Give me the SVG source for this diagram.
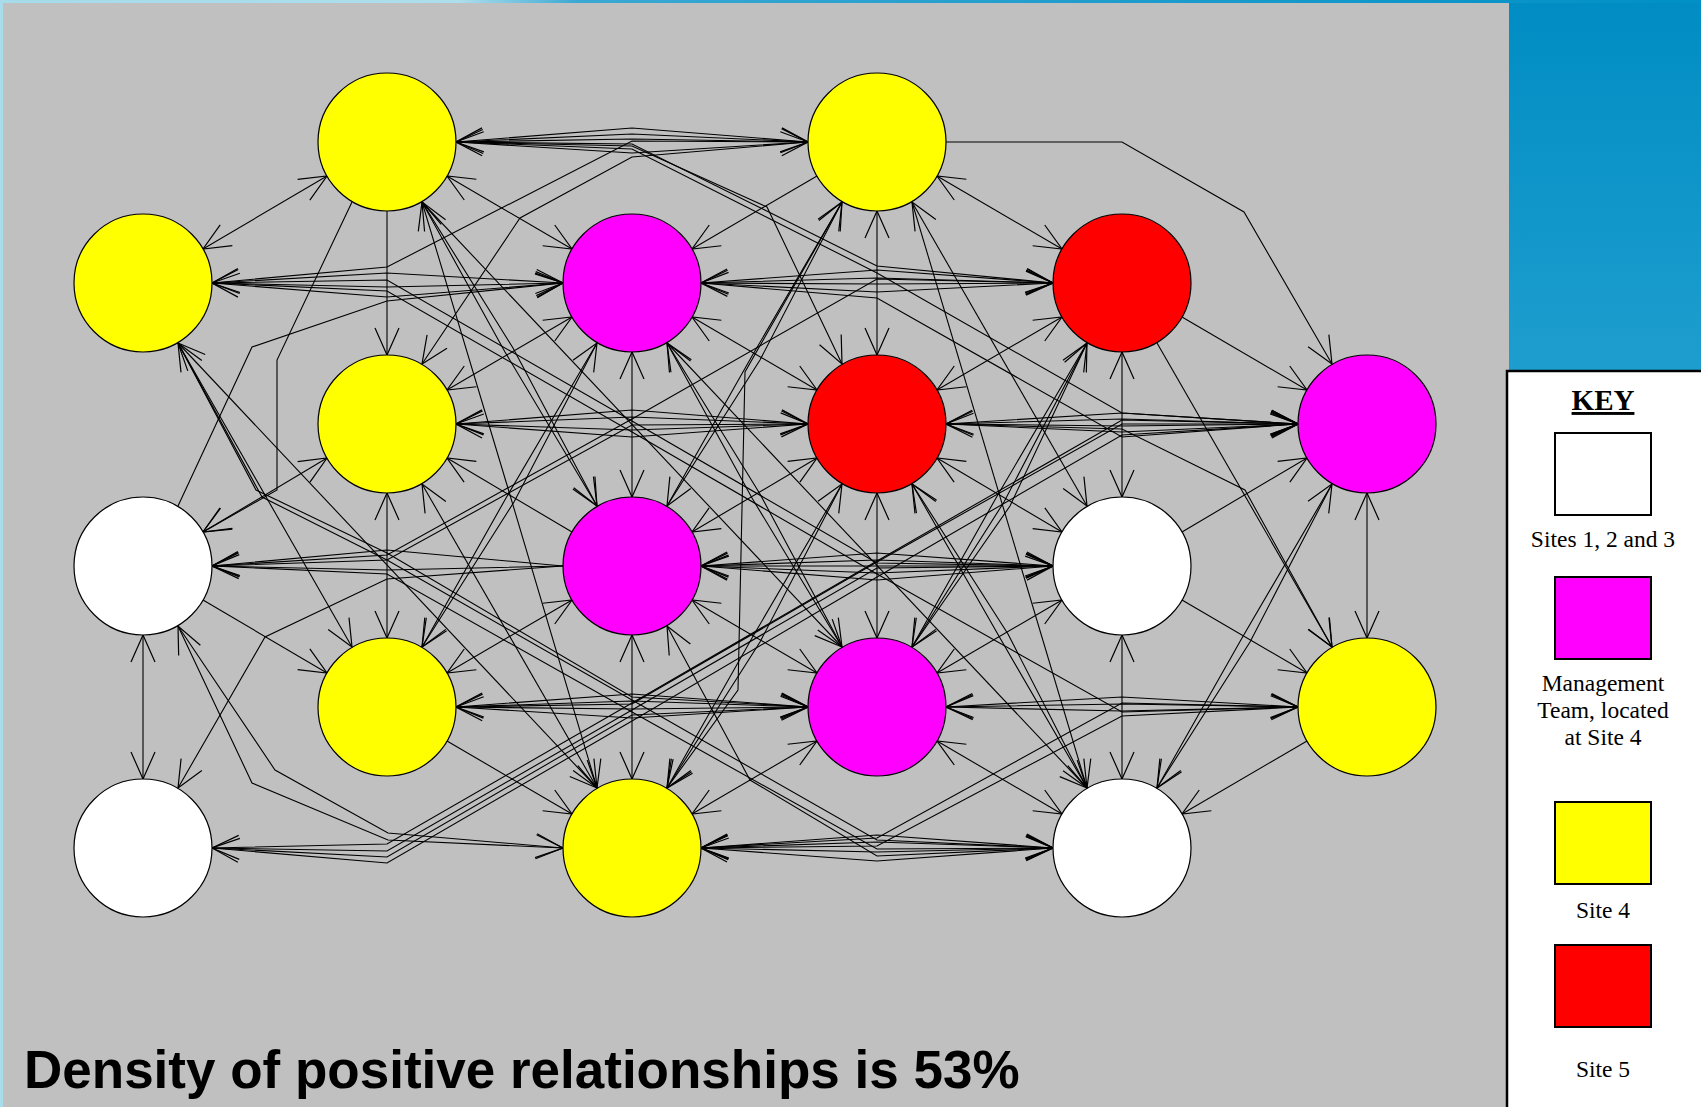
<svg xmlns="http://www.w3.org/2000/svg" width="1701" height="1107" viewBox="0 0 1701 1107">
  <defs>
    <linearGradient id="topStrip" x1="0" y1="0" x2="1701" y2="0" gradientUnits="userSpaceOnUse">
      <stop offset="0" stop-color="#a6dbea"/>
      <stop offset="0.27" stop-color="#addeec"/>
      <stop offset="0.34" stop-color="#3aa8d3"/>
      <stop offset="1" stop-color="#0090c6"/>
    </linearGradient>
    <linearGradient id="sidePanel" x1="0" y1="0" x2="0" y2="420" gradientUnits="userSpaceOnUse">
      <stop offset="0" stop-color="#008dc3"/>
      <stop offset="1" stop-color="#22a0d0"/>
    </linearGradient>
    <marker id="arrow" viewBox="-30 -15 32 30" refX="0" refY="0" markerWidth="32" markerHeight="30" markerUnits="userSpaceOnUse" orient="auto-start-reverse">
      <path d="M-27,-12 L0,0 L-27,12" fill="none" stroke="#000" stroke-width="1.2"/>
    </marker>
    <style>
      .node circle { stroke: #000; stroke-width: 1.2; }
      .yel { fill: #ffff00; }
      .mag { fill: #ff00ff; }
      .red { fill: #ff0000; }
      .wht { fill: #ffffff; }
      #connectors polyline { fill: none; stroke: #000; stroke-width: 1.1; }
      #connectors .e { marker-end: url(#arrow); }
      #connectors .s { marker-start: url(#arrow); }
      #connectors .b { marker-start: url(#arrow); marker-end: url(#arrow); }
      .keytxt { font-family: "Liberation Serif", "Times New Roman", serif; font-size: 23.5px; fill: #000; text-anchor: middle; }
      .swatch { stroke: #000; stroke-width: 2; }
    </style>
  </defs>

  <!-- backdrop -->
  <rect x="0" y="0" width="1701" height="1107" fill="#1a98cb"/>
  <rect x="1509" y="0" width="192" height="1107" fill="url(#sidePanel)"/>
  <rect x="0" y="0" width="1701" height="3" fill="url(#topStrip)"/>
  <rect x="0" y="0" width="3" height="1107" fill="#a8dcea"/>
  <rect x="3" y="3" width="1506" height="1104" fill="#c0c0c0"/>

  <!-- ties between people -->
  <g id="connectors">
    <!-- row 1 horizontals and routes through the upper gaps -->
    <polyline class="b" points="456,142 632,128 808,142"/>
    <polyline class="e" points="456,142 632,134 808,142"/>
    <polyline class="s" points="456,142 632,139 808,142"/>
    <polyline class="b" points="456,142 632,153 808,142"/>
    <polyline class="e" points="808,142 632,141 387,267 212,283"/>
    <polyline class="e" points="808,142 632,157 520,218 422,364"/>
    <polyline class="e" points="456,142 632,146 767,207 842,364"/>
    <polyline class="e" points="456,142 632,144 877,266 1053,283"/>
    <polyline class="e" points="456,142 632,149 877,273 1122,413 1298,424"/>
    <polyline class="e" points="946,142 1122,142 1244,212 1332,364"/>

    <!-- row 2 -->
    <polyline class="b" points="212,283 387,273 563,283"/>
    <polyline class="e" points="212,283 387,287 563,283"/>
    <polyline class="b" points="212,283 387,297 563,283"/>
    <polyline class="e" points="178,506 252,347 387,301 563,283"/>
    <polyline class="e" points="212,283 387,280 632,421 877,563 1053,566"/>
    <polyline class="e" points="212,283 387,291 632,432 877,574 1122,712 1298,707"/>
    <polyline class="b" points="701,283 877,270 1053,283"/>
    <polyline class="b" points="701,283 877,278 1053,283"/>
    <polyline class="e" points="701,283 877,284 1053,283"/>
    <polyline class="s" points="701,283 877,292 1053,283"/>
    <polyline class="e" points="701,283 877,298 1122,437 1298,424"/>

    <!-- row 3 -->
    <polyline class="b" points="456,424 632,410 808,424"/>
    <polyline class="b" points="456,424 632,417 808,424"/>
    <polyline class="e" points="456,424 632,430 808,424"/>
    <polyline class="s" points="456,424 632,437 808,424"/>
    <polyline class="e" points="808,424 632,425 387,560 212,566"/>
    <polyline class="b" points="212,566 387,555 632,419 877,279 1053,283"/>
    <polyline class="b" points="946,424 1122,413 1298,424"/>
    <polyline class="b" points="946,424 1122,419 1298,424"/>
    <polyline class="e" points="946,424 1122,426 1298,424"/>
    <polyline class="b" points="946,424 1122,432 1298,424"/>
    <polyline class="e" points="946,424 1122,429 1245,490 1332,647"/>

    <!-- row 4 -->
    <polyline class="e" points="563,566 387,550 212,566"/>
    <polyline class="e" points="563,566 387,570 212,566"/>
    <polyline class="e" points="563,566 387,579 265,637 178,788"/>
    <polyline class="b" points="701,566 877,553 1053,566"/>
    <polyline class="b" points="701,566 877,560 1053,566"/>
    <polyline class="e" points="701,566 877,566 1053,566"/>
    <polyline class="s" points="701,566 877,573 1053,566"/>
    <polyline class="b" points="701,566 877,580 1053,566"/>

    <!-- row 5 -->
    <polyline class="b" points="456,707 632,694 808,707"/>
    <polyline class="b" points="456,707 632,701 808,707"/>
    <polyline class="e" points="456,707 632,709 808,707"/>
    <polyline class="s" points="456,707 632,718 808,707"/>
    <polyline class="e" points="456,707 632,704 877,562 1122,424 1298,424"/>
    <polyline class="b" points="946,707 1122,697 1298,707"/>
    <polyline class="b" points="946,707 1122,704 1298,707"/>
    <polyline class="s" points="946,707 1122,711 1298,707"/>

    <!-- row 6 and the long rising routes -->
    <polyline class="b" points="178,626 252,783 388,840 563,848"/>
    <polyline class="e" points="178,626 275,770 388,833 563,848"/>
    <polyline class="b" points="212,848 387,844 632,703 877,561 1122,420 1298,424"/>
    <polyline class="e" points="212,848 387,851 632,710 877,568 1053,566"/>
    <polyline class="e" points="212,848 387,857 632,715 808,707"/>
    <polyline class="s" points="212,848 387,863 632,721 877,577 1122,435 1298,424"/>
    <polyline class="b" points="701,848 877,835 1053,848"/>
    <polyline class="b" points="701,848 877,842 1053,848"/>
    <polyline class="e" points="701,848 877,852 1053,848"/>
    <polyline class="s" points="701,848 877,861 1053,848"/>
    <polyline class="b" points="1298,707 1122,703 877,838 701,848"/>
    <polyline class="e" points="1298,707 1122,716 877,846 701,848"/>
    <polyline class="e" points="178,343 262,497 387,560 632,700 877,840 1053,848"/>
    <polyline class="e" points="212,566 387,574 632,712 877,849 1053,848"/>
    <polyline class="e" points="178,343 256,490 387,553 632,697 808,707"/>
    <polyline class="e" points="1053,848 877,856 750,780 667,626"/>

    <!-- vertical neighbours -->
    <polyline class="e" points="387,211 387,355"/>
    <polyline class="b" points="877,211 877,355"/>
    <polyline class="b" points="632,352 632,497"/>
    <polyline class="b" points="1122,352 1122,497"/>
    <polyline class="b" points="387,493 387,638"/>
    <polyline class="b" points="877,493 877,638"/>
    <polyline class="b" points="1367,493 1367,638"/>
    <polyline class="b" points="143,635 143,779"/>
    <polyline class="b" points="632,635 632,779"/>
    <polyline class="b" points="1122,635 1122,779"/>

    <!-- diagonal neighbours -->
    <polyline class="b" points="327,176 203,249"/>
    <polyline class="b" points="447,176 572,249"/>
    <polyline class="e" points="817,176 692,249"/>
    <polyline class="b" points="937,176 1062,249"/>
    <polyline class="b" points="572,317 447,390"/>
    <polyline class="b" points="692,317 817,390"/>
    <polyline class="b" points="1062,317 937,390"/>
    <polyline class="e" points="1182,317 1307,390"/>
    <polyline class="b" points="327,458 203,532"/>
    <polyline class="e" points="572,532 447,458"/>
    <polyline class="b" points="817,458 692,532"/>
    <polyline class="b" points="937,458 1062,532"/>
    <polyline class="e" points="1182,532 1307,458"/>
    <polyline class="e" points="203,600 327,673"/>
    <polyline class="b" points="572,600 447,673"/>
    <polyline class="b" points="692,600 817,673"/>
    <polyline class="b" points="1062,600 937,673"/>
    <polyline class="e" points="1182,600 1307,673"/>
    <polyline class="e" points="447,741 572,814"/>
    <polyline class="b" points="817,741 692,814"/>
    <polyline class="b" points="937,741 1062,814"/>
    <polyline class="e" points="1307,741 1182,814"/>

    <!-- steep links -->
    <polyline class="b" points="422,202 505,352 597,506"/>
    <polyline class="e" points="422,202 513,348 597,506"/>
    <polyline class="b" points="422,202 510,495 597,788"/>
    <polyline class="e" points="422,202 842,647"/>
    <polyline class="b" points="842,202 752,356 667,506"/>
    <polyline class="s" points="842,202 760,360 667,506"/>
    <polyline class="e" points="842,202 745,372 738,690 667,788"/>
    <polyline class="b" points="912,202 1087,506"/>
    <polyline class="e" points="912,202 1087,788"/>
    <polyline class="b" points="178,343 352,647"/>
    <polyline class="b" points="178,343 597,788"/>
    <polyline class="b" points="597,343 506,498 422,647"/>
    <polyline class="e" points="597,343 514,502 422,647"/>
    <polyline class="b" points="667,343 752,498 842,647"/>
    <polyline class="s" points="667,343 760,494 842,647"/>
    <polyline class="e" points="667,343 1087,788"/>
    <polyline class="b" points="1087,343 996,498 912,647"/>
    <polyline class="e" points="1087,343 1004,502 912,647"/>
    <polyline class="s" points="1087,343 1010,506 912,647"/>
    <polyline class="b" points="842,484 752,638 667,788"/>
    <polyline class="e" points="842,484 760,642 667,788"/>
    <polyline class="b" points="912,484 1000,638 1087,788"/>
    <polyline class="s" points="912,484 1008,634 1087,788"/>
    <polyline class="b" points="422,484 597,788"/>
    <polyline class="b" points="1332,484 1242,638 1157,788"/>
    <polyline class="e" points="1332,484 1250,642 1157,788"/>
    <polyline class="e" points="1157,343 1332,647"/>
    <polyline class="e" points="352,202 277,360 277,490 203,532"/>
  </g>

  <!-- people -->
  <g id="node-A" class="node"><circle class="yel" cx="387" cy="142" r="69"/></g>
  <g id="node-B" class="node"><circle class="yel" cx="877" cy="142" r="69"/></g>
  <g id="node-C" class="node"><circle class="yel" cx="143" cy="283" r="69"/></g>
  <g id="node-D" class="node"><circle class="mag" cx="632" cy="283" r="69"/></g>
  <g id="node-E" class="node"><circle class="red" cx="1122" cy="283" r="69"/></g>
  <g id="node-F" class="node"><circle class="yel" cx="387" cy="424" r="69"/></g>
  <g id="node-G" class="node"><circle class="red" cx="877" cy="424" r="69"/></g>
  <g id="node-H" class="node"><circle class="mag" cx="1367" cy="424" r="69"/></g>
  <g id="node-I" class="node"><circle class="wht" cx="143" cy="566" r="69"/></g>
  <g id="node-J" class="node"><circle class="mag" cx="632" cy="566" r="69"/></g>
  <g id="node-K" class="node"><circle class="wht" cx="1122" cy="566" r="69"/></g>
  <g id="node-L" class="node"><circle class="yel" cx="387" cy="707" r="69"/></g>
  <g id="node-M" class="node"><circle class="mag" cx="877" cy="707" r="69"/></g>
  <g id="node-N" class="node"><circle class="yel" cx="1367" cy="707" r="69"/></g>
  <g id="node-O" class="node"><circle class="wht" cx="143" cy="848" r="69"/></g>
  <g id="node-P" class="node"><circle class="yel" cx="632" cy="848" r="69"/></g>
  <g id="node-Q" class="node"><circle class="wht" cx="1122" cy="848" r="69"/></g>

  <!-- legend -->
  <g id="key">
    <rect x="1507" y="371" width="200" height="740" fill="#ffffff" stroke="#000" stroke-width="2.5"/>
    <text x="1603" y="410" font-family="'Liberation Serif', 'Times New Roman', serif" font-size="29" font-weight="bold" text-anchor="middle" text-decoration="underline">KEY</text>
    <rect class="swatch" x="1555" y="433" width="96" height="82" fill="#ffffff"/>
    <text class="keytxt" x="1603" y="547">Sites 1, 2 and 3</text>
    <rect class="swatch" x="1555" y="577" width="96" height="82" fill="#ff00ff"/>
    <text class="keytxt" x="1603" y="691">Management</text>
    <text class="keytxt" x="1603" y="718">Team, located</text>
    <text class="keytxt" x="1603" y="745">at Site 4</text>
    <rect class="swatch" x="1555" y="802" width="96" height="82" fill="#ffff00"/>
    <text class="keytxt" x="1603" y="918">Site 4</text>
    <rect class="swatch" x="1555" y="945" width="96" height="82" fill="#ff0000"/>
    <text class="keytxt" x="1603" y="1077">Site 5</text>
  </g>

  <text x="24" y="1088" font-family="'Liberation Sans', Arial, sans-serif" font-size="53" font-weight="bold" fill="#000">Density of positive relationships is 53%</text>
</svg>
